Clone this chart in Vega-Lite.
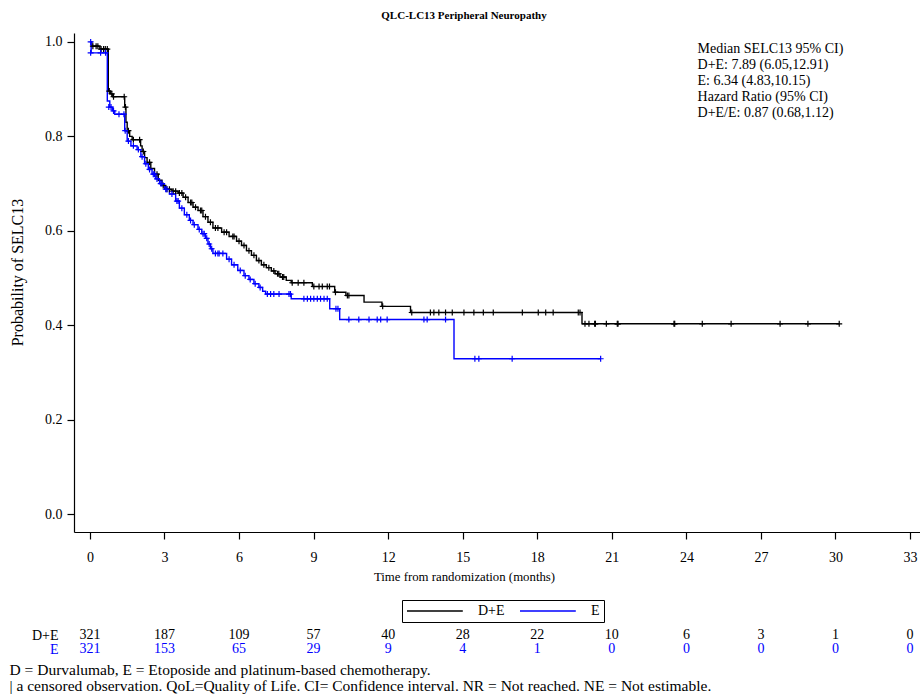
{
  "$schema": "https://vega.github.io/schema/vega-lite/v6.json",
  "background": "white",
  "padding": {"left": 9, "top": 10, "right": 0, "bottom": 0},
  "spacing": 5,
  "title": {
    "text": ["D = Durvalumab, E = Etoposide and platinum-based chemotherapy.", "| a censored observation. QoL=Quality of Life. CI= Confidence interval. NR = Not reached. NE = Not estimable."],
    "orient": "bottom", "anchor": "start", "frame": "bounds",
    "font": "Liberation Serif", "fontSize": 15.5, "fontWeight": "normal", "color": "#000000",
    "lineHeight": 16, "offset": 7
  },
  "datasets": {
    "steps": [
      {"arm": "D+E", "t": 0, "s": 1.0}, {"arm": "D+E", "t": 0.08, "s": 0.991}, {"arm": "D+E", "t": 0.4, "s": 0.985},
      {"arm": "D+E", "t": 0.74, "s": 0.896}, {"arm": "D+E", "t": 0.82, "s": 0.89}, {"arm": "D+E", "t": 0.92, "s": 0.884},
      {"arm": "D+E", "t": 1.4, "s": 0.862}, {"arm": "D+E", "t": 1.45, "s": 0.83}, {"arm": "D+E", "t": 1.5, "s": 0.812},
      {"arm": "D+E", "t": 1.6, "s": 0.8}, {"arm": "D+E", "t": 1.7, "s": 0.793}, {"arm": "D+E", "t": 2.04, "s": 0.78},
      {"arm": "D+E", "t": 2.1, "s": 0.768}, {"arm": "D+E", "t": 2.2, "s": 0.755}, {"arm": "D+E", "t": 2.3, "s": 0.745},
      {"arm": "D+E", "t": 2.45, "s": 0.732}, {"arm": "D+E", "t": 2.6, "s": 0.72}, {"arm": "D+E", "t": 2.75, "s": 0.707},
      {"arm": "D+E", "t": 2.9, "s": 0.696}, {"arm": "D+E", "t": 3.05, "s": 0.688}, {"arm": "D+E", "t": 3.3, "s": 0.684},
      {"arm": "D+E", "t": 3.55, "s": 0.68}, {"arm": "D+E", "t": 3.75, "s": 0.671}, {"arm": "D+E", "t": 3.95, "s": 0.66},
      {"arm": "D+E", "t": 4.15, "s": 0.65}, {"arm": "D+E", "t": 4.35, "s": 0.643}, {"arm": "D+E", "t": 4.55, "s": 0.63},
      {"arm": "D+E", "t": 4.75, "s": 0.618}, {"arm": "D+E", "t": 4.95, "s": 0.606}, {"arm": "D+E", "t": 5.3, "s": 0.597},
      {"arm": "D+E", "t": 5.6, "s": 0.588}, {"arm": "D+E", "t": 5.9, "s": 0.578}, {"arm": "D+E", "t": 6.1, "s": 0.569},
      {"arm": "D+E", "t": 6.3, "s": 0.558}, {"arm": "D+E", "t": 6.5, "s": 0.548}, {"arm": "D+E", "t": 6.7, "s": 0.537},
      {"arm": "D+E", "t": 6.9, "s": 0.528}, {"arm": "D+E", "t": 7.1, "s": 0.522}, {"arm": "D+E", "t": 7.3, "s": 0.515},
      {"arm": "D+E", "t": 7.45, "s": 0.509}, {"arm": "D+E", "t": 7.65, "s": 0.502}, {"arm": "D+E", "t": 7.9, "s": 0.495},
      {"arm": "D+E", "t": 8.1, "s": 0.49}, {"arm": "D+E", "t": 8.95, "s": 0.482}, {"arm": "D+E", "t": 9.85, "s": 0.47},
      {"arm": "D+E", "t": 10.3, "s": 0.463}, {"arm": "D+E", "t": 11.03, "s": 0.449}, {"arm": "D+E", "t": 11.75, "s": 0.44},
      {"arm": "D+E", "t": 12.9, "s": 0.427}, {"arm": "D+E", "t": 19.8, "s": 0.403}, {"arm": "D+E", "t": 30.15, "s": 0.403},
      {"arm": "E", "t": 0, "s": 1.0}, {"arm": "E", "t": 0.05, "s": 0.977}, {"arm": "E", "t": 0.7, "s": 0.875},
      {"arm": "E", "t": 0.8, "s": 0.862}, {"arm": "E", "t": 0.9, "s": 0.854}, {"arm": "E", "t": 1.0, "s": 0.847},
      {"arm": "E", "t": 1.4, "s": 0.812}, {"arm": "E", "t": 1.5, "s": 0.79}, {"arm": "E", "t": 1.65, "s": 0.78},
      {"arm": "E", "t": 1.9, "s": 0.772}, {"arm": "E", "t": 2.05, "s": 0.757}, {"arm": "E", "t": 2.2, "s": 0.742},
      {"arm": "E", "t": 2.35, "s": 0.73}, {"arm": "E", "t": 2.5, "s": 0.72}, {"arm": "E", "t": 2.65, "s": 0.71},
      {"arm": "E", "t": 2.8, "s": 0.7}, {"arm": "E", "t": 3.0, "s": 0.688}, {"arm": "E", "t": 3.2, "s": 0.678},
      {"arm": "E", "t": 3.45, "s": 0.663}, {"arm": "E", "t": 3.6, "s": 0.648}, {"arm": "E", "t": 3.8, "s": 0.634},
      {"arm": "E", "t": 4.0, "s": 0.622}, {"arm": "E", "t": 4.15, "s": 0.613}, {"arm": "E", "t": 4.35, "s": 0.603},
      {"arm": "E", "t": 4.5, "s": 0.594}, {"arm": "E", "t": 4.65, "s": 0.584}, {"arm": "E", "t": 4.75, "s": 0.572},
      {"arm": "E", "t": 4.85, "s": 0.562}, {"arm": "E", "t": 4.95, "s": 0.552}, {"arm": "E", "t": 5.5, "s": 0.54},
      {"arm": "E", "t": 5.7, "s": 0.528}, {"arm": "E", "t": 5.95, "s": 0.516}, {"arm": "E", "t": 6.2, "s": 0.505},
      {"arm": "E", "t": 6.4, "s": 0.497}, {"arm": "E", "t": 6.6, "s": 0.488}, {"arm": "E", "t": 6.8, "s": 0.48},
      {"arm": "E", "t": 6.95, "s": 0.472}, {"arm": "E", "t": 7.07, "s": 0.466}, {"arm": "E", "t": 8.1, "s": 0.456},
      {"arm": "E", "t": 9.65, "s": 0.435}, {"arm": "E", "t": 10.05, "s": 0.412}, {"arm": "E", "t": 14.65, "s": 0.329},
      {"arm": "E", "t": 20.55, "s": 0.329}
    ],
    "censors": [
      {"arm": "D+E", "t": 0.12, "s": 0.991}, {"arm": "D+E", "t": 0.25, "s": 0.991}, {"arm": "D+E", "t": 0.32, "s": 0.991},
      {"arm": "D+E", "t": 0.45, "s": 0.985}, {"arm": "D+E", "t": 0.55, "s": 0.985}, {"arm": "D+E", "t": 0.62, "s": 0.985},
      {"arm": "D+E", "t": 0.7, "s": 0.985}, {"arm": "D+E", "t": 0.78, "s": 0.896}, {"arm": "D+E", "t": 0.88, "s": 0.89},
      {"arm": "D+E", "t": 0.95, "s": 0.884}, {"arm": "D+E", "t": 1.38, "s": 0.884}, {"arm": "D+E", "t": 1.43, "s": 0.862},
      {"arm": "D+E", "t": 1.55, "s": 0.812}, {"arm": "D+E", "t": 1.75, "s": 0.793}, {"arm": "D+E", "t": 2.0, "s": 0.793},
      {"arm": "D+E", "t": 2.15, "s": 0.768}, {"arm": "D+E", "t": 2.4, "s": 0.745}, {"arm": "D+E", "t": 2.7, "s": 0.72},
      {"arm": "D+E", "t": 2.95, "s": 0.696}, {"arm": "D+E", "t": 3.1, "s": 0.688}, {"arm": "D+E", "t": 3.2, "s": 0.688},
      {"arm": "D+E", "t": 3.35, "s": 0.684}, {"arm": "D+E", "t": 3.45, "s": 0.684}, {"arm": "D+E", "t": 3.6, "s": 0.68},
      {"arm": "D+E", "t": 3.7, "s": 0.68}, {"arm": "D+E", "t": 3.85, "s": 0.671}, {"arm": "D+E", "t": 4.05, "s": 0.66},
      {"arm": "D+E", "t": 4.1, "s": 0.66}, {"arm": "D+E", "t": 4.25, "s": 0.65}, {"arm": "D+E", "t": 4.45, "s": 0.643},
      {"arm": "D+E", "t": 4.5, "s": 0.643}, {"arm": "D+E", "t": 4.65, "s": 0.63}, {"arm": "D+E", "t": 4.85, "s": 0.618},
      {"arm": "D+E", "t": 5.05, "s": 0.606}, {"arm": "D+E", "t": 5.15, "s": 0.606}, {"arm": "D+E", "t": 5.4, "s": 0.597},
      {"arm": "D+E", "t": 5.5, "s": 0.597}, {"arm": "D+E", "t": 5.75, "s": 0.588}, {"arm": "D+E", "t": 5.8, "s": 0.588},
      {"arm": "D+E", "t": 6.0, "s": 0.578}, {"arm": "D+E", "t": 6.2, "s": 0.569}, {"arm": "D+E", "t": 6.4, "s": 0.558},
      {"arm": "D+E", "t": 6.6, "s": 0.548}, {"arm": "D+E", "t": 6.8, "s": 0.537}, {"arm": "D+E", "t": 7.0, "s": 0.528},
      {"arm": "D+E", "t": 7.2, "s": 0.522}, {"arm": "D+E", "t": 7.4, "s": 0.515}, {"arm": "D+E", "t": 7.55, "s": 0.509},
      {"arm": "D+E", "t": 7.6, "s": 0.509}, {"arm": "D+E", "t": 7.75, "s": 0.502}, {"arm": "D+E", "t": 7.8, "s": 0.502},
      {"arm": "D+E", "t": 8.14, "s": 0.49}, {"arm": "D+E", "t": 8.38, "s": 0.49}, {"arm": "D+E", "t": 8.61, "s": 0.49},
      {"arm": "D+E", "t": 9.01, "s": 0.482}, {"arm": "D+E", "t": 9.22, "s": 0.482}, {"arm": "D+E", "t": 9.35, "s": 0.482},
      {"arm": "D+E", "t": 9.55, "s": 0.482}, {"arm": "D+E", "t": 9.64, "s": 0.482}, {"arm": "D+E", "t": 9.88, "s": 0.47},
      {"arm": "D+E", "t": 10.36, "s": 0.463}, {"arm": "D+E", "t": 10.42, "s": 0.463}, {"arm": "D+E", "t": 11.78, "s": 0.44},
      {"arm": "D+E", "t": 12.95, "s": 0.427}, {"arm": "D+E", "t": 13.7, "s": 0.427}, {"arm": "D+E", "t": 13.84, "s": 0.427},
      {"arm": "D+E", "t": 14.04, "s": 0.427}, {"arm": "D+E", "t": 14.31, "s": 0.427}, {"arm": "D+E", "t": 14.58, "s": 0.427},
      {"arm": "D+E", "t": 15.05, "s": 0.427}, {"arm": "D+E", "t": 15.45, "s": 0.427}, {"arm": "D+E", "t": 15.83, "s": 0.427},
      {"arm": "D+E", "t": 16.23, "s": 0.427}, {"arm": "D+E", "t": 17.4, "s": 0.427}, {"arm": "D+E", "t": 18.04, "s": 0.427},
      {"arm": "D+E", "t": 18.34, "s": 0.427}, {"arm": "D+E", "t": 18.64, "s": 0.427}, {"arm": "D+E", "t": 19.65, "s": 0.427},
      {"arm": "D+E", "t": 19.72, "s": 0.427}, {"arm": "D+E", "t": 19.92, "s": 0.403}, {"arm": "D+E", "t": 20.08, "s": 0.403},
      {"arm": "D+E", "t": 20.31, "s": 0.403}, {"arm": "D+E", "t": 20.34, "s": 0.403}, {"arm": "D+E", "t": 20.78, "s": 0.403},
      {"arm": "D+E", "t": 21.22, "s": 0.403}, {"arm": "D+E", "t": 21.25, "s": 0.403}, {"arm": "D+E", "t": 23.5, "s": 0.403},
      {"arm": "D+E", "t": 23.53, "s": 0.403}, {"arm": "D+E", "t": 24.64, "s": 0.403}, {"arm": "D+E", "t": 25.8, "s": 0.403},
      {"arm": "D+E", "t": 27.77, "s": 0.403}, {"arm": "D+E", "t": 28.89, "s": 0.403}, {"arm": "D+E", "t": 30.15, "s": 0.403},
      {"arm": "E", "t": 0.03, "s": 1.0}, {"arm": "E", "t": 0.03, "s": 0.977}, {"arm": "E", "t": 0.43, "s": 0.977},
      {"arm": "E", "t": 0.63, "s": 0.977}, {"arm": "E", "t": 0.76, "s": 0.862}, {"arm": "E", "t": 0.85, "s": 0.862},
      {"arm": "E", "t": 0.95, "s": 0.854}, {"arm": "E", "t": 1.17, "s": 0.847}, {"arm": "E", "t": 1.37, "s": 0.847},
      {"arm": "E", "t": 1.42, "s": 0.812}, {"arm": "E", "t": 1.55, "s": 0.79}, {"arm": "E", "t": 1.75, "s": 0.78},
      {"arm": "E", "t": 1.95, "s": 0.772}, {"arm": "E", "t": 2.1, "s": 0.757}, {"arm": "E", "t": 2.25, "s": 0.742},
      {"arm": "E", "t": 2.4, "s": 0.73}, {"arm": "E", "t": 2.55, "s": 0.72}, {"arm": "E", "t": 2.6, "s": 0.72},
      {"arm": "E", "t": 2.7, "s": 0.71}, {"arm": "E", "t": 2.85, "s": 0.7}, {"arm": "E", "t": 2.9, "s": 0.7},
      {"arm": "E", "t": 3.05, "s": 0.688}, {"arm": "E", "t": 3.1, "s": 0.688}, {"arm": "E", "t": 3.3, "s": 0.678},
      {"arm": "E", "t": 3.5, "s": 0.663}, {"arm": "E", "t": 3.55, "s": 0.663}, {"arm": "E", "t": 3.7, "s": 0.648},
      {"arm": "E", "t": 3.9, "s": 0.634}, {"arm": "E", "t": 4.05, "s": 0.622}, {"arm": "E", "t": 4.2, "s": 0.613},
      {"arm": "E", "t": 4.4, "s": 0.603}, {"arm": "E", "t": 4.55, "s": 0.594}, {"arm": "E", "t": 4.6, "s": 0.594},
      {"arm": "E", "t": 4.7, "s": 0.584}, {"arm": "E", "t": 4.8, "s": 0.572}, {"arm": "E", "t": 4.9, "s": 0.562},
      {"arm": "E", "t": 5.05, "s": 0.552}, {"arm": "E", "t": 5.15, "s": 0.552}, {"arm": "E", "t": 5.2, "s": 0.552},
      {"arm": "E", "t": 5.35, "s": 0.552}, {"arm": "E", "t": 5.6, "s": 0.54}, {"arm": "E", "t": 5.8, "s": 0.528},
      {"arm": "E", "t": 6.05, "s": 0.516}, {"arm": "E", "t": 6.25, "s": 0.505}, {"arm": "E", "t": 6.45, "s": 0.497},
      {"arm": "E", "t": 6.65, "s": 0.488}, {"arm": "E", "t": 6.85, "s": 0.48}, {"arm": "E", "t": 7.14, "s": 0.466},
      {"arm": "E", "t": 7.27, "s": 0.466}, {"arm": "E", "t": 7.4, "s": 0.466}, {"arm": "E", "t": 7.61, "s": 0.466},
      {"arm": "E", "t": 8.01, "s": 0.466}, {"arm": "E", "t": 8.07, "s": 0.466}, {"arm": "E", "t": 8.61, "s": 0.456},
      {"arm": "E", "t": 8.75, "s": 0.456}, {"arm": "E", "t": 8.88, "s": 0.456}, {"arm": "E", "t": 9.01, "s": 0.456},
      {"arm": "E", "t": 9.15, "s": 0.456}, {"arm": "E", "t": 9.28, "s": 0.456}, {"arm": "E", "t": 9.42, "s": 0.456},
      {"arm": "E", "t": 9.55, "s": 0.456}, {"arm": "E", "t": 9.9, "s": 0.435}, {"arm": "E", "t": 9.98, "s": 0.435},
      {"arm": "E", "t": 10.42, "s": 0.412}, {"arm": "E", "t": 10.82, "s": 0.412}, {"arm": "E", "t": 11.23, "s": 0.412},
      {"arm": "E", "t": 11.56, "s": 0.412}, {"arm": "E", "t": 11.7, "s": 0.412}, {"arm": "E", "t": 11.96, "s": 0.412},
      {"arm": "E", "t": 13.44, "s": 0.412}, {"arm": "E", "t": 13.57, "s": 0.412}, {"arm": "E", "t": 14.31, "s": 0.412},
      {"arm": "E", "t": 15.49, "s": 0.329}, {"arm": "E", "t": 15.65, "s": 0.329}, {"arm": "E", "t": 16.99, "s": 0.329},
      {"arm": "E", "t": 20.55, "s": 0.329}
    ],
    "risk": [
      {"arm": "D+E", "t": 0, "n": 321}, {"arm": "D+E", "t": 3, "n": 187}, {"arm": "D+E", "t": 6, "n": 109},
      {"arm": "D+E", "t": 9, "n": 57}, {"arm": "D+E", "t": 12, "n": 40}, {"arm": "D+E", "t": 15, "n": 28},
      {"arm": "D+E", "t": 18, "n": 22}, {"arm": "D+E", "t": 21, "n": 10}, {"arm": "D+E", "t": 24, "n": 6},
      {"arm": "D+E", "t": 27, "n": 3}, {"arm": "D+E", "t": 30, "n": 1}, {"arm": "D+E", "t": 33, "n": 0},
      {"arm": "E", "t": 0, "n": 321}, {"arm": "E", "t": 3, "n": 153}, {"arm": "E", "t": 6, "n": 65},
      {"arm": "E", "t": 9, "n": 29}, {"arm": "E", "t": 12, "n": 9}, {"arm": "E", "t": 15, "n": 4},
      {"arm": "E", "t": 18, "n": 1}, {"arm": "E", "t": 21, "n": 0}, {"arm": "E", "t": 24, "n": 0},
      {"arm": "E", "t": 27, "n": 0}, {"arm": "E", "t": 30, "n": 0}, {"arm": "E", "t": 33, "n": 0}
    ],
    "note": [{"label": "stats"}]
  },
  "vconcat": [
    {
      "width": 846,
      "height": 499,
      "title": {"text": "QLC-LC13 Peripheral Neuropathy", "font": "Liberation Serif", "fontSize": 11, "fontWeight": "bold", "color": "#000000", "dx": -33, "offset": 12},
      "layer": [
        {
          "data": {"name": "steps"},
          "mark": {"type": "line", "interpolate": "step-after", "strokeWidth": 1.4},
          "encoding": {
            "x": {"field": "t", "type": "quantitative", "scale": {"domain": [-0.64, 33.4], "nice": false, "zero": false},
              "axis": {"values": [0, 3, 6, 9, 12, 15, 18, 21, 24, 27, 30, 33], "title": "Time from randomization (months)", "titleX": 390, "titleFontSize": 12.8, "tickSize": 7, "labelPadding": 11, "titlePadding": 6}},
            "y": {"field": "s", "type": "quantitative", "scale": {"domain": [-0.038, 1.019], "nice": false, "zero": false},
              "axis": {"values": [0, 0.2, 0.4, 0.6, 0.8, 1.0], "format": ".1f", "title": "Probability of SELC13", "titleFontSize": 16, "titleY": 239, "tickSize": 7, "labelPadding": 5, "titlePadding": 19}},
            "color": {"field": "arm", "type": "nominal", "scale": {"domain": ["D+E", "E"], "range": ["#000000", "#0000ff"]},
              "legend": {"title": null, "orient": "none", "direction": "horizontal", "legendX": 328, "legendY": 567, "symbolType": "M-1,0H8.3", "symbolSize": 144, "symbolStrokeWidth": 1.3, "labelOffset": 58, "columnPadding": 12, "padding": 4, "strokeColor": "#000000", "labelFontSize": 14, "labelFont": "Liberation Serif"}}
          }
        },
        {
          "data": {"name": "censors"},
          "mark": {"type": "point", "shape": "M0,-1V1M-1,0H1", "filled": false, "size": 36, "strokeWidth": 1.2, "opacity": 1},
          "encoding": {
            "x": {"field": "t", "type": "quantitative"},
            "y": {"field": "s", "type": "quantitative"},
            "color": {"field": "arm", "type": "nominal"}
          }
        },
        {
          "data": {"name": "note"},
          "mark": {"type": "text", "align": "left", "baseline": "top", "font": "Liberation Serif", "fontSize": 14, "lineHeight": 15.8, "color": "#000000",
            "text": ["Median SELC13 95% CI)", "D+E: 7.89 (6.05,12.91)", "E: 6.34 (4.83,10.15)", "Hazard Ratio (95% CI)", "D+E/E: 0.87 (0.68,1.12)"]},
          "encoding": {
            "x": {"datum": 24.45},
            "y": {"datum": 0.999}
          }
        }
      ]
    },
    {
      "width": 846,
      "height": 28,
      "data": {"name": "risk"},
      "mark": {"type": "text", "font": "Liberation Serif", "fontSize": 14},
      "encoding": {
        "x": {"field": "t", "type": "quantitative", "scale": {"domain": [-0.64, 33.4], "nice": false, "zero": false}, "axis": null},
        "y": {"field": "arm", "type": "nominal", "sort": ["D+E", "E"],
          "axis": {"title": null, "domain": false, "ticks": false, "labelPadding": 16, "labelFontSize": 14,
            "labelColor": {"condition": {"test": "datum.value === 'E'", "value": "#0000ff"}, "value": "#000000"}}},
        "text": {"field": "n", "type": "quantitative"},
        "color": {"field": "arm", "type": "nominal", "scale": {"domain": ["D+E", "E"], "range": ["#000000", "#0000ff"]}, "legend": null}
      }
    }
  ],
  "resolve": {"scale": {"color": "independent", "x": "independent"}, "legend": {"color": "independent"}},
  "config": {
    "view": {"stroke": null},
    "font": "Liberation Serif",
    "axis": {"grid": false, "domainColor": "#000000", "domainWidth": 1.2, "tickColor": "#000000", "tickWidth": 1.2,
      "labelColor": "#000000", "labelFont": "Liberation Serif", "labelFontSize": 14, "titleFont": "Liberation Serif",
      "titleFontSize": 12.5, "titleFontWeight": "normal", "titleColor": "#000000"},
    "legend": {"labelColor": "#000000"}
  }
}
